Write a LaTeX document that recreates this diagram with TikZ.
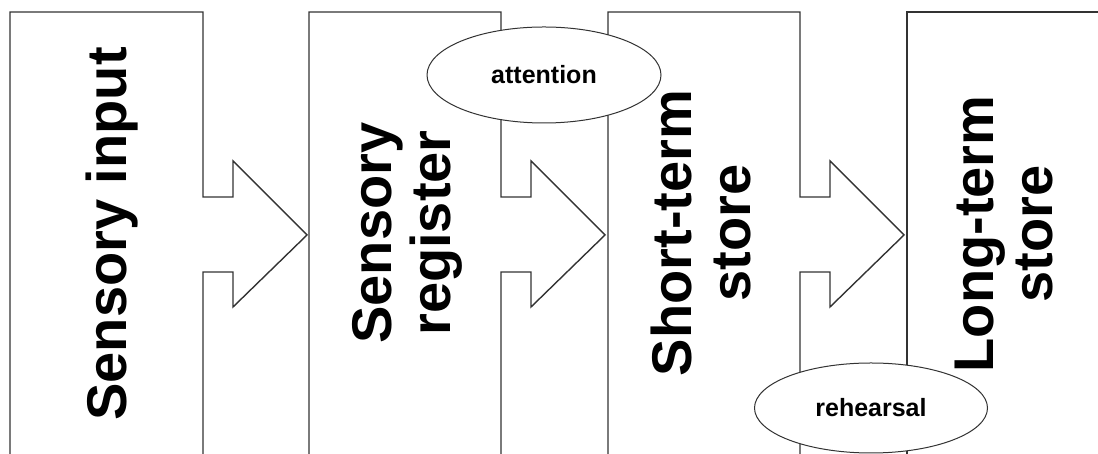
\documentclass[tikz,border=0pt]{standalone}
\usepackage{fontspec}
\setmainfont{Liberation Sans}
\usetikzlibrary{shapes.geometric}

\definecolor{edgegray}{gray}{0.2}

\begin{document}
\begin{tikzpicture}[x=1pt, y=1pt,
outline/.style={draw=edgegray, line width=1.4pt, line join=miter},
stage/.style={rotate=90, align=center, inner sep=0pt,
  font={\fontsize{56}{59}\selectfont\bfseries}},
process/.style={draw=edgegray, ellipse, fill=white, line width=1pt, inner sep=0pt,
  font={\fontsize{25}{30}\selectfont\bfseries}},
]

\useasboundingbox (0,0) rectangle (1098,454);
\clip (0,0) rectangle (1098,454);

% stores, each with its arrow cut into the right side
\draw[outline] (10,-2) -- (10,442) -- (203,442) -- (203,257) -- (233,257)
  -- (233,293) -- (307,219) -- (233,147) -- (233,182) -- (203,182) -- (203,-2);
\draw[outline] (309,-2) -- (309,442) -- (501,442) -- (501,257) -- (531,257)
  -- (531,293) -- (605,219) -- (531,147) -- (531,182) -- (501,182) -- (501,-2);
\draw[outline] (608,-2) -- (608,442) -- (800,442) -- (800,257) -- (830,257)
  -- (830,293) -- (904,219) -- (830,147) -- (830,182) -- (800,182) -- (800,-2);
\draw[outline] (907,-2) -- (907,442) -- (1100,442);

% labels
\node[stage] (input) at (112,220) {Sensory input};
\node[stage] (register) at (407,221) {Sensory\\register};
\node[stage] (short) at (701,221) {Short-term\\store};
\node[stage] (long) at (1004,220) {Long-term\\store};

% control processes
\node[process, minimum width=234pt, minimum height=96pt] (attention) at (544,379) {attention};
\node[process, minimum width=233pt, minimum height=90pt] (rehearsal) at (871,46) {rehearsal};

\end{tikzpicture}
\end{document}
